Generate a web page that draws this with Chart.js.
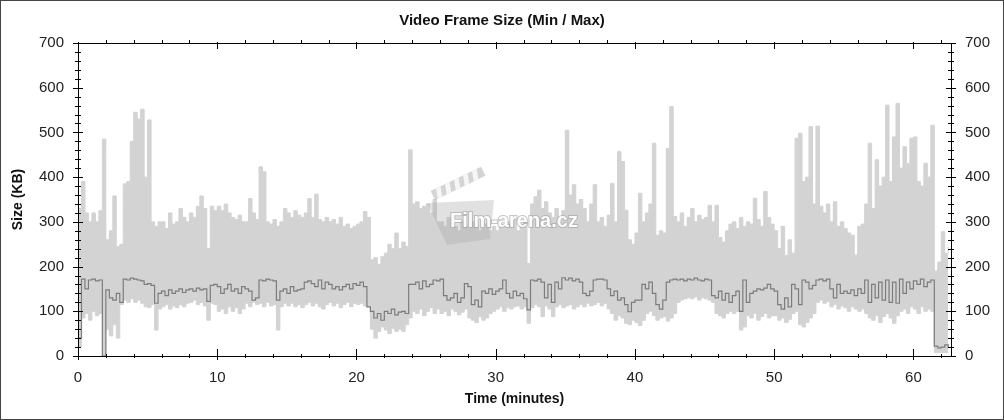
<!DOCTYPE html>
<html>
<head>
<meta charset="utf-8">
<script src="https://cdn.jsdelivr.net/npm/chart.js@4.4.0/dist/chart.umd.min.js"></script>
<style>
  html, body { margin: 0; padding: 0; background: #fff; }
  #wrap { width: 1002px; height: 418px; border: 1px solid #444; position: relative; }
</style>
</head>
<body>
<div id="wrap"><canvas id="frame-size"></canvas></div>
<script>
// samples every 0.25 minute, one row = one minute
const STEP = 0.25;

// upper edge of the light band (max frame size, KB)
const maxKB = [
  330, 390, 320, 300,  320, 300, 325, 485,  260, 280, 358, 245,  250, 385, 390, 480,
  545, 530, 552, 400,  528, 300, 290, 300,  300, 285, 320, 295,  300, 330, 310, 300,
  320, 310, 335, 358,  330, 240, 335, 325,  335, 325, 340, 320,  310, 305, 315, 300,
  300, 352, 320, 305,  423, 412, 300, 295,  305, 290, 300, 330,  320, 310, 325, 315,
  310, 320, 352, 310,  362, 305, 300, 310,  300, 305, 295, 310,  290, 295, 285, 290,
  295, 300, 323, 310,  215, 220, 205, 222,  230, 250, 240, 275,  240, 255, 245, 461,
  340, 345, 330, 335,  340, 320, 350, 300,  300, 290, 310, 285,  290, 280, 300, 290,
  285, 300, 290, 280,  285, 295, 280, 290,  280, 295, 290, 300,  290, 305, 280, 295,
  300, 207, 340, 356,  371, 330, 345, 320,  310, 330, 300, 325,  505, 360, 383, 340,
  350, 330, 300, 340,  383, 300, 310, 290,  315, 386, 300, 457,  435, 326, 260, 250,
  275, 364, 300, 320,  340, 476, 270, 280,  275, 464, 558, 312,  300, 320, 290, 310,
  330, 300, 315, 305,  310, 337, 300, 337,  265, 255, 280, 295,  300, 285, 310, 290,
  300, 295, 353, 305,  290, 368, 310, 295,  280, 240, 290, 225,  260, 230, 487, 498,
  390, 400, 513, 340,  514, 335, 320, 340,  300, 345, 290, 300,  285, 275, 270, 226,
  290, 295, 340, 476,  330, 439, 380, 400,  561, 390, 490, 565,  420, 468, 430, 487,
  490, 390, 380, 431,  400, 516, 190, 210,  278, 230, 245
];

// lower edge of the light band (KB)
const lowKB = [
   20,  85,  95,  80,  100,  90,  95,   0,   60,  45,  70,  40,  115, 125, 120, 128,
  120, 125, 118, 110,  108, 115,  58, 105,  110, 115, 105, 112,  108, 115, 110, 118,
  120, 125, 115, 120,  112,  80, 118, 115,  100, 105,  95, 110,  100, 108,  95, 105,
  118, 110, 120, 115,  118, 110, 120, 112,  115,  58, 110, 118,  112, 118, 110, 115,
  108, 115, 120, 112,  118, 110, 105, 115,  120, 112, 118, 108,  115, 120, 110, 118,
  115, 118, 112, 110,   60,  40,  55,  65,   58,  50,  62,  55,   60,  55,  70,  85,
  100,  95, 105,  90,  100, 108,  95, 105,   95, 100,  90, 105,  100,  92,  98, 105,
   85,  80,  75,  88,   80,  85,  95, 100,  105, 110, 100, 108,  105, 110, 112, 105,
  110,  73, 108, 115,  110,  88, 112, 105,   88, 110, 115, 108,  112, 115, 105, 110,
  115, 110, 118, 112,  115, 120, 112, 118,  105,  95,  80,  90,   85,  73,  70,  80,
   75,  68,  80,  95,  100,  90,  80,  85,   88,  78,  85,  95,  120, 125, 128, 130,
  128, 132, 125, 130,  128, 125, 120,  95,   90,  85,  95, 100,   95, 100,  58,  65,
   90,  85,  95,  80,   88,  95,  85,  90,   90,  80,  85,  75,   82,  95, 100,  70,
   65,  75,  85,  95,  120, 125, 118, 122,  110, 115, 105, 112,  108, 100, 110, 105,
  100, 105,  95,  85,   80,  90,  75,  88,   95,  85,  73,  90,  100, 105,  95, 110,
  105,  95, 110, 100,  105, 100,   8,   8,    8,   8,   8
];

// dark line (min frame size, KB)
const minKB = [
   40, 172, 150, 170,  172, 168, 170,   0,  148, 130, 125, 140,  120, 172, 170, 174,
  172, 170, 168, 160,  162, 158, 118, 140,  145, 135, 148, 140,  145, 150, 142, 148,
  150, 145, 152, 148,  150, 122, 158, 160,  155, 140, 150, 160,  145, 150, 140, 155,
  150, 145, 125, 130,  170, 168, 172, 170,  168, 125, 145, 150,  140, 155, 145, 148,
  150, 165, 168, 162,  155, 170, 150, 165,  160, 150, 155, 148,  155, 160, 150, 162,
  158, 165, 155, 110,  100,  85,  95,  80,  100,  95, 105,  92,   98, 100,  95, 160,
  160, 165, 150, 168,  155, 160, 170, 168,  172, 135, 125, 130,  140, 120, 130, 162,
  155, 115, 125, 110,  145, 140, 150, 138,  145, 150, 170, 140,  130, 145, 135, 140,
  128, 103, 170, 168,  172, 165, 130, 160,  120, 165, 150, 175,  170, 174, 168, 172,
  165, 140, 135, 145,  170, 172, 172, 170,  150, 135, 145, 125,  130, 115,  99, 120,
  125, 125, 160, 150,  165, 140, 115, 105,  125, 165, 170, 172,  170, 172, 168, 172,
  170, 174, 170, 168,  172, 170, 135, 130,  145, 125, 140, 120,  135, 145, 100, 170,
  120, 140, 145, 150,  148, 152, 160, 150,  145, 115, 105, 130,  110, 160, 150, 115,
  170, 165, 150, 158,  170, 172, 168, 172,  150, 130, 160, 140,  145, 140, 148, 135,
  150, 140, 170, 120,  160, 130, 165, 125,  170, 120, 165, 118,  172, 140, 165, 150,
  168, 160, 172, 155,  165, 170,  22,  18,   20,  25,  18
];

const xTicks = [0, 10, 20, 30, 40, 50, 60];
const yTicks = [0, 100, 200, 300, 400, 500, 600, 700];

const toPoints = arr => arr.map((v, i) => ({ x: i * STEP, y: v }));

Chart.defaults.font.family = "'Liberation Sans', Arial, sans-serif";
Chart.defaults.color = '#222';

// axis frame and tick marks that cross the axis lines
const axisTicks = {
  id: 'axisTicks',
  afterDatasetsDraw(chart) {
    const { ctx, chartArea: a, scales: { x, y } } = chart;
    const p = v => Math.round(v) + 0.5;
    ctx.save();
    ctx.strokeStyle = '#000';
    ctx.lineWidth = 1;
    ctx.beginPath();
    ctx.rect(p(a.left), p(a.top), Math.round(a.right) - Math.round(a.left), Math.round(a.bottom) - Math.round(a.top));
    for (let v = 0; v <= 700; v += 20) {
      const yy = p(y.getPixelForValue(v));
      const len = v % 100 === 0 ? 5 : 3;
      ctx.moveTo(a.left - len, yy); ctx.lineTo(a.left + len, yy);
      ctx.moveTo(a.right - len, yy); ctx.lineTo(a.right + len, yy);
    }
    for (let t = 0; t <= 62; t += 2) {
      const xx = p(x.getPixelForValue(t));
      const major = t % 10 === 0;
      ctx.moveTo(xx, a.bottom - (major ? 7 : 2)); ctx.lineTo(xx, a.bottom + (major ? 4 : 2));
      ctx.moveTo(xx, a.top - (major ? 1 : 3)); ctx.lineTo(xx, a.top + (major ? 6 : 1));
    }
    ctx.stroke();
    ctx.restore();
  }
};

// Film-arena.cz watermark
const watermark = {
  id: 'watermark',
  afterDatasetsDraw(chart) {
    const { ctx } = chart;
    ctx.save();
    // clapper body
    ctx.fillStyle = 'rgba(170,170,170,0.35)';
    ctx.beginPath();
    ctx.moveTo(426, 202); ctx.lineTo(493, 199); ctx.lineTo(489, 238); ctx.lineTo(446, 244);
    ctx.closePath();
    ctx.fill();
    // clapper stick with stripes
    ctx.translate(434, 199);
    ctx.rotate(-0.45);
    ctx.fillStyle = 'rgba(170,170,170,0.5)';
    ctx.fillRect(0, -10, 56, 10);
    ctx.fillStyle = 'rgba(255,255,255,0.8)';
    for (let i = 0; i < 5; i++) {
      ctx.beginPath();
      ctx.moveTo(6 + i * 10, -10); ctx.lineTo(11 + i * 10, -10);
      ctx.lineTo(8 + i * 10, 0); ctx.lineTo(3 + i * 10, 0);
      ctx.closePath();
      ctx.fill();
    }
    ctx.restore();
    ctx.save();
    ctx.font = "bold 20px 'Liberation Sans', Arial, sans-serif";
    ctx.textAlign = 'center';
    ctx.textBaseline = 'alphabetic';
    ctx.lineWidth = 2;
    ctx.strokeStyle = 'rgba(160,160,160,0.6)';
    ctx.strokeText('Film-arena.cz', 513, 226);
    ctx.fillStyle = 'rgba(255,255,255,0.95)';
    ctx.fillText('Film-arena.cz', 513, 226);
    ctx.restore();
  }
};

const config = {
  type: 'line',
  data: {
    datasets: [
      {
        label: 'Max',
        data: toPoints(maxKB),
        stepped: true,
        borderColor: '#d3d3d3',
        backgroundColor: '#d3d3d3',
        borderWidth: 1,
        pointRadius: 0,
        fill: '+1',
        order: 1
      },
      {
        label: 'Low',
        data: toPoints(lowKB),
        stepped: true,
        borderColor: '#d3d3d3',
        borderWidth: 1,
        pointRadius: 0,
        fill: false,
        order: 2
      },
      {
        label: 'Min',
        data: toPoints(minKB),
        stepped: true,
        borderColor: '#7c7c7c',
        borderWidth: 1.2,
        pointRadius: 0,
        fill: false,
        order: 0
      }
    ]
  },
  options: {
    responsive: true,
    maintainAspectRatio: false,
    animation: false,
    layout: { padding: 0 },
    plugins: {
      legend: { display: false },
      tooltip: { enabled: false },
      title: {
        display: true,
        text: 'Video Frame Size (Min / Max)',
        color: '#111',
        font: { size: 15, weight: 'bold' },
        padding: { top: 11, bottom: 13 }
      }
    },
    scales: {
      x: {
        type: 'linear',
        position: 'bottom',
        min: 0,
        max: 62.7,
        grid: { display: false, drawTicks: false },
        border: { display: false },
        ticks: {
          stepSize: 10,
          includeBounds: false,
          padding: 13,
          font: { size: 15 },
          callback: v => xTicks.includes(v) ? v : ''
        },
        title: {
          display: true,
          text: 'Time (minutes)',
          color: '#111',
          font: { size: 14, weight: 'bold' },
          padding: { top: 5, bottom: 11 }
        },
        afterFit: s => { s.height = 63; }
      },
      y: {
        position: 'left',
        min: 0,
        max: 700,
        grid: { display: false, drawTicks: false },
        border: { display: false },
        ticks: {
          stepSize: 100,
          padding: 14,
          font: { size: 15 },
          callback: v => yTicks.includes(v) ? v : ''
        },
        title: {
          display: true,
          text: 'Size (KB)',
          color: '#111',
          font: { size: 14, weight: 'bold' },
          padding: { top: 9, bottom: 4 }
        },
        afterFit: s => { s.width = 77; }
      },
      y2: {
        position: 'right',
        min: 0,
        max: 700,
        grid: { display: false, drawTicks: false },
        border: { display: false },
        ticks: {
          stepSize: 100,
          padding: 14,
          font: { size: 15 },
          callback: v => yTicks.includes(v) ? v : ''
        },
        afterFit: s => { s.width = 52; }
      }
    }
  },
  plugins: [axisTicks, watermark]
};

const frameChart = new Chart(document.getElementById('frame-size'), config);
</script>
</body>
</html>
